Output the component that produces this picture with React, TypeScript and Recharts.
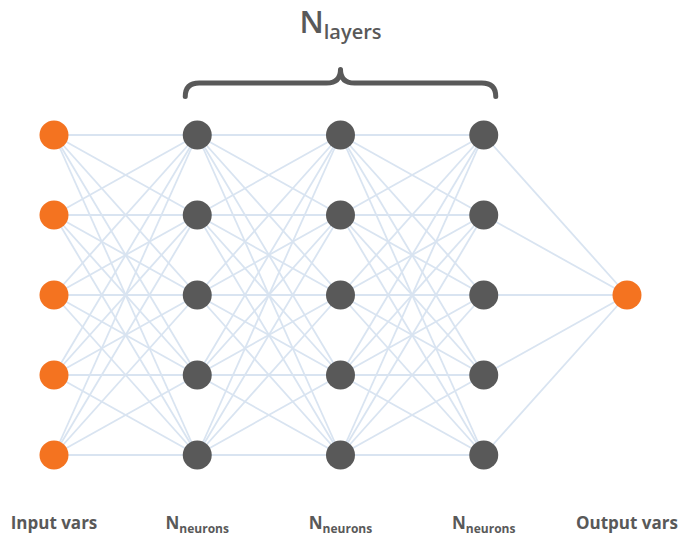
import React from "react";
import {
  ScatterChart,
  Scatter,
  XAxis,
  YAxis,
  ReferenceLine,
  ReferenceArea,
  ReferenceDot,
} from "recharts";

// Layers (x index) and their neuron counts / kinds
const layerIndex = [0, 1, 2, 3, 4];
const layerSizes = [5, 5, 5, 5, 1];
const layerKinds = ["io", "hidden", "hidden", "hidden", "io"];
const neuronRows = [0, 1, 2, 3, 4];
const outputRow = [2];
const bottomLabels = ["Input vars", "N", "N", "N", "Output vars"];
const bottomSubs = ["", "neurons", "neurons", "neurons", ""];
const topLabel = "N";
const topSub = "layers";

const ORANGE = "#F47320";
const GREY = "#595959";
const EDGE = "#D9E4F1";

type Node = { x: number; y: number; kind: string };

const rowsFor = (li: number) => (layerSizes[li] === 1 ? outputRow : neuronRows.slice(0, layerSizes[li]));

const nodes: Node[] = [];
layerIndex.forEach((li) => {
  rowsFor(li).forEach((r) => nodes.push({ x: li, y: r, kind: layerKinds[li] }));
});

const edges: { x1: number; y1: number; x2: number; y2: number }[] = [];
layerIndex.slice(0, -1).forEach((li) => {
  rowsFor(li).forEach((a) => {
    rowsFor(li + 1).forEach((b) => edges.push({ x1: li, y1: a, x2: li + 1, y2: b }));
  });
});

const ioNodes = nodes.filter((n) => n.kind === "io");
const hiddenNodes = nodes.filter((n) => n.kind === "hidden");

const W = 681;
const H = 536;

const NodeShape = (color: string) => (props: any) => (
  <circle cx={props.cx} cy={props.cy} r={14.5} fill={color} />
);

const Brace = (props: any) => {
  const { x, y, width, height } = props;
  const x1 = x - 12;
  const x2 = x + width + 12;
  const xm = x + width / 2;
  const top = y;
  const bar = y + height * 0.5;
  const bot = y + height;
  const d = `M ${x1} ${bot} Q ${x1} ${bar} ${x1 + 14} ${bar} L ${xm - 14} ${bar} Q ${xm} ${bar} ${xm} ${top} Q ${xm} ${bar} ${xm + 14} ${bar} L ${x2 - 14} ${bar} Q ${x2} ${bar} ${x2} ${bot}`;
  return <path d={d} fill="none" stroke={GREY} strokeWidth={5} strokeLinecap="round" strokeLinejoin="round" />;
};

const makeLabel = (main: string, sub: string, size: number, subSize: number, dy: number, weight: number) => (props: any) => {
  const { viewBox } = props;
  const cx = viewBox.x + (viewBox.width || 0) / 2;
  const cy = viewBox.y + (viewBox.height || 0) / 2;
  return (
    <text
      x={cx}
      y={cy}
      textAnchor="middle"
      fill={GREY}
      fontFamily="'Open Sans', Lato, sans-serif"
      fontWeight={weight}
      fontSize={size}
    >
      {main}
      {sub ? (
        <tspan fontSize={subSize} dy={dy}>
          {sub}
        </tspan>
      ) : null}
    </text>
  );
};

export default function App() {
  return (
    <div style={{ position: "absolute", left: 0, top: 0, width: W, height: H, background: "#fff" }}>
      <ScatterChart width={W} height={H} margin={{ top: 0, right: 0, bottom: 0, left: 0 }}>
        <XAxis type="number" dataKey="x" hide domain={[-54 / 143.25, (W - 54) / 143.25]} allowDataOverflow />
        <YAxis type="number" dataKey="y" hide reversed domain={[-135 / 80, (H - 135) / 80]} allowDataOverflow />
        {edges.map((e, i) => (
          <ReferenceLine
            key={i}
            segment={[
              { x: e.x1, y: e.y1 },
              { x: e.x2, y: e.y2 },
            ]}
            stroke={EDGE}
            strokeWidth={1.8}
            ifOverflow="visible"
          />
        ))}
        <ReferenceArea x1={1} x2={3} y1={-0.82} y2={-0.48} shape={Brace} ifOverflow="visible" />
        <ReferenceDot
          x={2}
          y={-1.27}
          r={0}
          ifOverflow="visible"
          label={makeLabel(topLabel, topSub, 31, 20, 6, 600)}
        />
        {layerIndex.map((li) => (
          <ReferenceDot
            key={"b" + li}
            x={li}
            y={4.93}
            r={0}
            ifOverflow="visible"
            label={makeLabel(bottomLabels[li], bottomSubs[li], 17, 12, 4, 700)}
          />
        ))}
        <Scatter data={ioNodes} isAnimationActive={false} shape={NodeShape(ORANGE)} />
        <Scatter data={hiddenNodes} isAnimationActive={false} shape={NodeShape(GREY)} />
      </ScatterChart>
    </div>
  );
}
